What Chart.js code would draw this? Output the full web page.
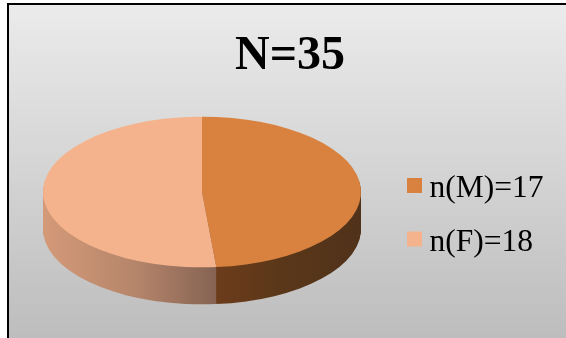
<!DOCTYPE html>
<html>
<head>
<meta charset="utf-8">
<script src="https://cdn.jsdelivr.net/npm/chart.js@4/dist/chart.umd.min.js"></script>
<style>
  html, body { margin: 0; padding: 0; background: #fff; }
  #wrap { width: 566px; height: 338px; position: relative; }
</style>
</head>
<body>
<div id="wrap"><canvas id="c"></canvas></div>
<script>
// ---- data ----
const titleText = 'N=35';
const categories = ['n(M)=17', 'n(F)=18'];
const counts = [17, 18];

// ---- styles ----
const topColors = ['#D9823F', '#F4B38C'];
const sideStops = [
  [[0.00, '#D08A55'], [0.55, '#6C3C1B'], [0.75, '#5A3719'], [1.00, '#50321A']],
  [[0.00, '#D49A78'], [0.30, '#B4846A'], [0.55, '#846252'], [1.00, '#5A4236']]
];
const tilt = 0.474;
const depth = 37;
const pieRadius = 159;

const bgPlugin = {
  id: 'bg',
  beforeDraw(chart) {
    const ctx = chart.ctx, W = chart.width, H = chart.height;
    ctx.save();
    ctx.fillStyle = '#ffffff';
    ctx.fillRect(0, 0, W, H);
    const g = ctx.createLinearGradient(0, 4, 0, H);
    g.addColorStop(0, '#EBEBEB');
    g.addColorStop(1, '#BDBDBD');
    ctx.fillStyle = g;
    ctx.fillRect(8, 4, W - 8, H - 4);
    ctx.strokeStyle = '#000';
    ctx.lineWidth = 2;
    ctx.beginPath();
    ctx.moveTo(8, H + 2);
    ctx.lineTo(8, 4);
    ctx.lineTo(W + 2, 4);
    ctx.stroke();
    ctx.restore();
  }
};

const pie3d = {
  id: 'pie3d',
  beforeDatasetsDraw(chart) {
    const meta = chart.getDatasetMeta(0);
    const ctx = chart.ctx;
    const a0 = meta.data[0];
    const cx = a0.x, cy = a0.y, r = a0.outerRadius;
    const grads = sideStops.map(stops => {
      const g = ctx.createLinearGradient(cx - r, 0, cx + r, 0);
      stops.forEach(s => g.addColorStop(s[0], s[1]));
      return g;
    });
    // side walls: stacked copies of each slice, shifted downwards
    for (let d = depth; d >= 1; d--) {
      ctx.save();
      ctx.translate(0, d);
      ctx.translate(cx, cy);
      ctx.scale(1, tilt);
      ctx.translate(-cx, -cy);
      meta.data.forEach((arc, i) => {
        const orig = arc.options;
        arc.options = Object.assign({}, orig, { backgroundColor: grads[i], borderWidth: 0 });
        arc.draw(ctx);
        arc.options = orig;
      });
      ctx.restore();
    }
    // top faces
    ctx.save();
    ctx.translate(cx, cy);
    ctx.scale(1, tilt);
    ctx.translate(-cx, -cy);
    meta.data.forEach(arc => arc.draw(ctx));
    ctx.restore();
    return false;
  }
};

// title and legend drawn as canvas text from the data arrays
const textPlugin = {
  id: 'texts',
  afterDraw(chart) {
    const ctx = chart.ctx;
    ctx.save();
    ctx.fillStyle = '#000';
    ctx.textAlign = 'center';
    ctx.textBaseline = 'alphabetic';
    ctx.font = 'bold 48px "Liberation Serif"';
    ctx.fillText(titleText, 290, 69);

    const colors = chart.data.datasets[0].backgroundColor;
    ctx.textAlign = 'left';
    ctx.font = '31.5px "Liberation Serif"';
    chart.data.labels.forEach((lab, i) => {
      const y = 178 + i * 53.5;
      ctx.fillStyle = colors[i];
      ctx.fillRect(407, y, 15, 15);
      ctx.fillStyle = '#000';
      ctx.fillText(lab, 429.5, y + 19.3);
    });
    ctx.restore();
  }
};

new Chart(document.getElementById('c'), {
  type: 'pie',
  data: {
    labels: categories,
    datasets: [{
      data: counts,
      backgroundColor: topColors,
      borderWidth: 0,
      radius: pieRadius
    }]
  },
  options: {
    responsive: true,
    maintainAspectRatio: false,
    animation: false,
    events: [],
    layout: { padding: { left: 0, right: 162, top: 50, bottom: 4 } },
    plugins: {
      tooltip: { enabled: false },
      title: { display: false },
      legend: { display: false }
    }
  },
  plugins: [bgPlugin, pie3d, textPlugin]
});
</script>
</body>
</html>
